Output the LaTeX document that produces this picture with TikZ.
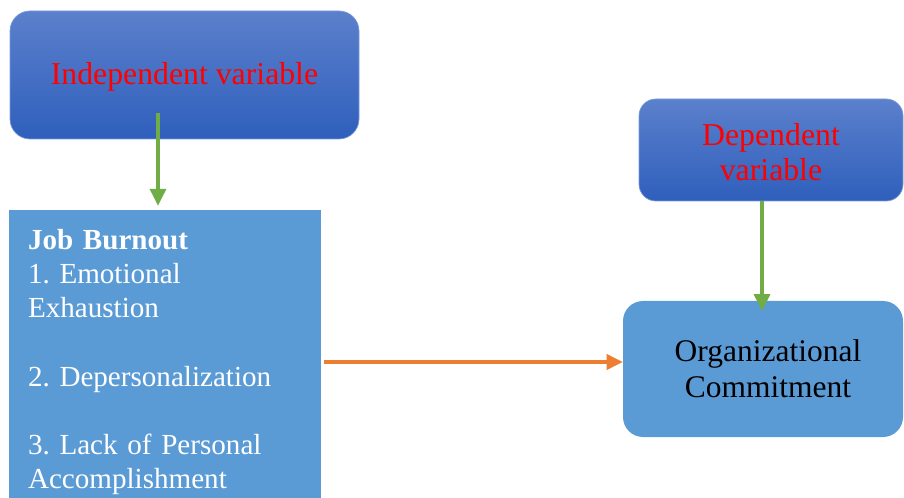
\documentclass[tikz,border=0pt]{standalone}
\usepackage{fontspec}
\setmainfont{Liberation Serif}
\usepackage{xcolor}
\usepackage{tikz}
\usetikzlibrary{positioning,arrows.meta,calc}
\definecolor{varTop}{HTML}{5B80CC}
\definecolor{varBot}{HTML}{2F5FBC}
\definecolor{varEdge}{HTML}{7A9BD8}
\definecolor{boxBlue}{HTML}{5B9BD5}
\definecolor{linkG}{HTML}{70AD47}
\definecolor{linkO}{HTML}{ED7D31}
\definecolor{labRed}{HTML}{FF0000}
\frenchspacing

\begin{document}
\begin{tikzpicture}[
  varbox/.style={draw=varEdge,line width=0.5pt,rounded corners=0.5cm,
                 top color=varTop,bottom color=varBot,text=labRed,align=center,
                 font=\fontsize{22.6}{25.6}\selectfont,inner sep=0pt},
  conbox/.style={fill=boxBlue,inner sep=0pt},
  glink/.style={-{Triangle[length=0.42cm,width=0.4cm]},line width=2.2pt,linkG},
  olink/.style={-{Triangle[length=0.4cm,width=0.38cm]},line width=2.2pt,linkO},
]
\useasboundingbox (0,0) rectangle (22.6,-12.45);

% variable headers
\node[varbox,minimum width=8.725cm,minimum height=3.2cm] (indep)
  at (4.6125,-1.875) {\raisebox{-0.25cm}[0pt][0pt]{Independent variable}};
\node[varbox,minimum width=6.6cm,minimum height=2.55cm,rounded corners=0.42cm] (dep)
  at (19.275,-3.75) {\raisebox{-0.325cm}[0pt][0pt]{Dependent}\\
  \raisebox{-0.325cm}[0pt][0pt]{variable}};

% constructs
\node[conbox,minimum width=7.8cm,minimum height=7.6cm,text width=6.85cm,
      align=left,text=white,font=\fontsize{20.7}{24.2}\selectfont] (job)
  at (4.125,-9.05) {\textbf{Job Burnout}\\1. Emotional\\Exhaustion\\[\baselineskip]
  2. Depersonalization\\[\baselineskip]3. Lack of Personal\\Accomplishment};
\node[conbox,rounded corners=0.5cm,minimum width=7.0cm,minimum height=3.4cm,
      align=center,font=\fontsize{22.4}{25.6}\selectfont] (org)
  at (19.075,-9.225) {\hspace*{0.25cm}Organizational\\\hspace*{0.25cm}Commitment};

% links
\coordinate (a1) at (3.95,-2.825);
\coordinate (a2) at (19.05,-7.775);
\coordinate (o1) at (8.1,-9.05);
\draw[glink,shorten >=0.1cm] (a1) -- (a1 |- job.north);
\draw[glink] (dep.south -| a2) -- (a2);
\draw[olink] (o1) -- (o1 -| org.west);
\end{tikzpicture}
\end{document}
